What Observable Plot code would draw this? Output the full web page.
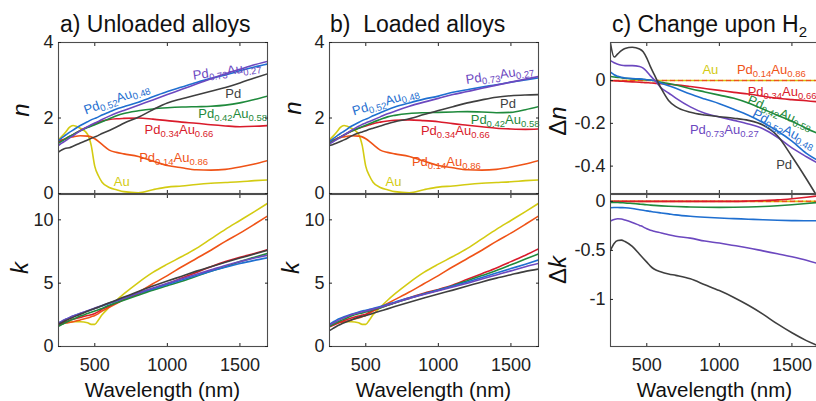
<!DOCTYPE html>
<html>
<head>
<meta charset="utf-8">
<script src="https://cdn.jsdelivr.net/npm/d3@7"></script>
<script src="https://cdn.jsdelivr.net/npm/@observablehq/plot@0.6"></script>
<style>
html, body { margin: 0; padding: 0; background: #fff; overflow: hidden; }
#chart { position: relative; width: 816px; height: 401px; overflow: hidden; background: #fff; }
#chart > svg { position: absolute; }
</style>
</head>
<body>
<div id="chart"></div>
<script>
// ---------- data ----------
const wavelength = [250, 275, 300, 325, 350, 400, 450, 475, 500, 525, 550, 600, 650, 700, 800, 900, 1000, 1100, 1200, 1300, 1400, 1500, 1600, 1690];
const alloys = ["Au", "Pd14", "Pd34", "Pd42", "Pd52", "Pd73", "Pd"];
const alloyNames = {
  Au: "Au", Pd14: "Pd_{0.14}Au_{0.86}", Pd34: "Pd_{0.34}Au_{0.66}", Pd42: "Pd_{0.42}Au_{0.58}",
  Pd52: "Pd_{0.52}Au_{0.48}", Pd73: "Pd_{0.73}Au_{0.27}", Pd: "Pd"
};

const n_Au   = [1.42,1.52,1.63,1.75,1.80,1.73,1.57,1.28,0.72,0.47,0.30,0.16,0.10,0.05,0.02,0.10,0.17,0.20,0.24,0.27,0.29,0.31,0.34,0.36];
const n_Pd14 = [1.40,1.42,1.45,1.48,1.50,1.53,1.52,1.50,1.45,1.38,1.30,1.15,1.09,1.05,0.98,0.86,0.74,0.68,0.63,0.62,0.64,0.70,0.78,0.87];
const k_Au   = [1.75,1.83,1.90,1.93,1.95,1.95,1.88,1.75,1.75,2.10,2.50,3.10,3.65,4.15,5.05,5.85,6.50,7.10,7.75,8.50,9.25,9.95,10.65,11.30];
const k_Pd14 = [1.70,1.78,1.85,1.90,1.95,2.10,2.25,2.35,2.45,2.60,2.80,3.10,3.40,3.70,4.30,4.95,5.60,6.30,6.95,7.60,8.30,8.95,9.65,10.30];
const zeros  = [0,0,0,0,0,0,0,0,0,0,0,0,0,0,0,0,0,0,0,0,0,0,0,0];

const nUnloaded = {
  Au: n_Au, Pd14: n_Pd14,
  Pd34: [1.36,1.41,1.46,1.51,1.56,1.67,1.76,1.80,1.85,1.89,1.92,1.96,1.98,1.99,2.00,1.97,1.93,1.89,1.86,1.82,1.79,1.77,1.78,1.80],
  Pd42: [1.33,1.39,1.45,1.51,1.56,1.66,1.75,1.78,1.82,1.86,1.90,1.98,2.06,2.12,2.19,2.24,2.27,2.29,2.30,2.31,2.34,2.40,2.49,2.58],
  Pd52: [1.40,1.48,1.55,1.62,1.68,1.80,1.90,1.95,1.99,2.03,2.08,2.16,2.24,2.30,2.42,2.56,2.70,2.82,2.94,3.05,3.14,3.25,3.35,3.43],
  Pd73: [1.27,1.34,1.40,1.47,1.53,1.66,1.77,1.82,1.87,1.91,1.96,2.05,2.13,2.20,2.34,2.48,2.62,2.76,2.90,3.04,3.17,3.29,3.41,3.50],
  Pd:   [1.10,1.16,1.20,1.21,1.25,1.34,1.42,1.46,1.50,1.54,1.59,1.67,1.76,1.86,2.02,2.22,2.40,2.51,2.61,2.71,2.81,2.93,3.06,3.17]
};
const nLoaded = {
  Au: n_Au, Pd14: n_Pd14,
  Pd34: [1.36,1.40,1.45,1.50,1.55,1.65,1.73,1.76,1.79,1.82,1.85,1.89,1.92,1.94,1.95,1.93,1.90,1.85,1.81,1.77,1.73,1.71,1.70,1.71],
  Pd42: [1.33,1.39,1.44,1.50,1.55,1.65,1.73,1.77,1.81,1.85,1.89,1.96,2.03,2.07,2.12,2.14,2.15,2.16,2.17,2.16,2.14,2.15,2.22,2.30],
  Pd52: [1.38,1.45,1.52,1.59,1.65,1.78,1.88,1.93,1.97,2.01,2.06,2.14,2.22,2.29,2.40,2.50,2.58,2.68,2.75,2.82,2.88,2.95,3.01,3.06],
  Pd73: [1.31,1.37,1.43,1.49,1.55,1.67,1.78,1.83,1.87,1.91,1.95,2.03,2.11,2.18,2.31,2.42,2.52,2.62,2.70,2.79,2.87,2.95,3.03,3.10],
  Pd:   [1.27,1.30,1.34,1.38,1.42,1.52,1.60,1.63,1.66,1.70,1.73,1.79,1.85,1.90,1.98,2.09,2.20,2.30,2.40,2.48,2.55,2.59,2.61,2.62]
};
const kUnloaded = {
  Au: k_Au, Pd14: k_Pd14,
  Pd34: [1.70,1.83,1.95,2.05,2.15,2.30,2.45,2.50,2.60,2.75,2.95,3.20,3.45,3.70,4.15,4.55,4.95,5.40,5.85,6.30,6.70,7.05,7.35,7.65],
  Pd42: [1.60,1.75,1.90,2.03,2.15,2.40,2.60,2.70,2.80,2.90,3.00,3.25,3.45,3.65,4.05,4.45,4.80,5.15,5.55,5.95,6.30,6.70,7.05,7.35],
  Pd52: [1.85,2.00,2.15,2.28,2.40,2.60,2.80,2.90,3.00,3.10,3.20,3.40,3.60,3.80,4.20,4.55,4.90,5.25,5.60,5.95,6.25,6.55,6.80,7.00],
  Pd73: [1.85,2.00,2.15,2.28,2.40,2.62,2.83,2.93,3.03,3.13,3.23,3.43,3.63,3.83,4.25,4.62,5.00,5.35,5.70,6.05,6.40,6.70,6.98,7.20],
  Pd:   [1.75,1.90,2.05,2.18,2.30,2.55,2.78,2.90,3.00,3.10,3.22,3.45,3.67,3.90,4.35,4.77,5.17,5.55,5.95,6.30,6.65,6.98,7.30,7.60]
};
const kLoaded = {
  Au: k_Au, Pd14: k_Pd14,
  Pd34: [1.55,1.68,1.80,1.93,2.05,2.25,2.40,2.48,2.55,2.70,2.85,3.05,3.25,3.45,3.85,4.20,4.50,4.85,5.30,5.75,6.20,6.70,7.20,7.70],
  Pd42: [1.60,1.75,1.90,2.03,2.15,2.40,2.58,2.65,2.72,2.80,2.90,3.05,3.25,3.43,3.80,4.15,4.45,4.80,5.20,5.60,6.00,6.45,6.90,7.30],
  Pd52: [1.75,1.93,2.10,2.23,2.35,2.55,2.72,2.80,2.86,2.93,3.00,3.15,3.33,3.50,3.85,4.15,4.45,4.77,5.10,5.45,5.80,6.15,6.50,6.83],
  Pd73: [1.70,1.85,2.00,2.14,2.27,2.50,2.67,2.74,2.80,2.87,2.95,3.10,3.28,3.45,3.80,4.10,4.40,4.70,5.00,5.33,5.65,5.97,6.30,6.56],
  Pd:   [1.25,1.43,1.60,1.74,1.87,2.10,2.30,2.38,2.45,2.53,2.62,2.80,2.97,3.15,3.50,3.83,4.15,4.45,4.77,5.10,5.40,5.67,5.93,6.12]
};
const deltaN = {
  Au: zeros, Pd14: zeros,
  Pd34: [0,-0.001,-0.002,-0.003,-0.004,-0.006,-0.008,-0.009,-0.010,-0.011,-0.012,-0.015,-0.017,-0.020,-0.028,-0.037,-0.046,-0.055,-0.063,-0.073,-0.083,-0.089,-0.094,-0.100],
  Pd42: [0.019,0.017,0.015,0.013,0.011,0.008,0.006,0.005,0.004,0.002,0.000,-0.008,-0.014,-0.021,-0.038,-0.053,-0.068,-0.083,-0.105,-0.133,-0.162,-0.190,-0.224,-0.250],
  Pd52: [0.039,0.027,0.020,0.015,0.012,0.009,0.008,0.006,0.004,0.002,0.000,-0.012,-0.024,-0.036,-0.063,-0.086,-0.108,-0.134,-0.162,-0.196,-0.236,-0.283,-0.340,-0.378],
  Pd73: [0.093,0.083,0.076,0.072,0.070,0.070,0.066,0.058,0.042,0.022,0.005,-0.035,-0.058,-0.082,-0.123,-0.153,-0.170,-0.186,-0.203,-0.225,-0.265,-0.315,-0.356,-0.390],
  Pd:   [0.174,0.110,0.125,0.140,0.150,0.156,0.148,0.135,0.105,0.065,0.030,-0.038,-0.093,-0.122,-0.148,-0.161,-0.169,-0.176,-0.186,-0.208,-0.258,-0.355,-0.460,-0.560]
};
const deltaK = {
  Au: zeros, Pd14: zeros,
  Pd34: [0,0,0,0,0,0,0,0,0,0,0,0,0,0,0,0,0,0,0.003,0.008,0.015,0.027,0.042,0.058],
  Pd42: [-0.010,-0.011,-0.012,-0.014,-0.016,-0.022,-0.028,-0.031,-0.035,-0.038,-0.041,-0.046,-0.050,-0.053,-0.057,-0.060,-0.061,-0.060,-0.057,-0.052,-0.044,-0.034,-0.022,-0.010],
  Pd52: [-0.065,-0.063,-0.063,-0.064,-0.065,-0.072,-0.085,-0.091,-0.097,-0.102,-0.108,-0.118,-0.128,-0.138,-0.152,-0.162,-0.170,-0.176,-0.182,-0.188,-0.193,-0.196,-0.198,-0.198],
  Pd73: [-0.200,-0.185,-0.178,-0.180,-0.190,-0.215,-0.245,-0.260,-0.280,-0.295,-0.305,-0.322,-0.340,-0.355,-0.375,-0.405,-0.425,-0.450,-0.475,-0.505,-0.535,-0.565,-0.600,-0.640],
  Pd:   [-0.500,-0.430,-0.400,-0.395,-0.410,-0.460,-0.540,-0.580,-0.620,-0.660,-0.690,-0.720,-0.740,-0.755,-0.790,-0.850,-0.910,-0.980,-1.060,-1.150,-1.250,-1.340,-1.420,-1.480]
};

// curve annotations: alloy, wavelength (nm), value, rotation (deg)
const labelsUnloaded = [
  {s: "Pd73", x: 1411, y: 3.25, r: -8},
  {s: "Pd52", x: 650, y: 2.51, r: -20},
  {s: "Pd",   x: 1454, y: 2.64, r: 0},
  {s: "Pd42", x: 1450, y: 2.11, r: 0},
  {s: "Pd34", x: 1080, y: 1.69, r: 0},
  {s: "Pd14", x: 1043, y: 0.94, r: 0},
  {s: "Au",   x: 686, y: 0.31, r: 0}
];
const labelsLoaded = [
  {s: "Pd73", x: 1423, y: 3.15, r: -9},
  {s: "Pd52", x: 636, y: 2.44, r: -17},
  {s: "Pd",   x: 1480, y: 2.37, r: 0},
  {s: "Pd42", x: 1460, y: 1.95, r: 0},
  {s: "Pd34", x: 1117, y: 1.67, r: 0},
  {s: "Pd14", x: 1055, y: 0.85, r: 0},
  {s: "Au",   x: 691, y: 0.31, r: 0}
];
const labelsDelta = [
  {s: "Au",   x: 938, y: 0.048, r: 0},
  {s: "Pd14", x: 1358, y: 0.048, r: 0},
  {s: "Pd34", x: 1432, y: -0.053, r: 0},
  {s: "Pd42", x: 1418, y: -0.150, r: 23},
  {s: "Pd52", x: 1445, y: -0.226, r: 28},
  {s: "Pd73", x: 1034, y: -0.232, r: 0},
  {s: "Pd",   x: 1446, y: -0.395, r: 0}
];

const xTicks = [500, 1000, 1500];
const nTicks = [0, 2, 4];
const kTicks = [0, 5, 10];
const dnTicks = [-0.4, -0.2, 0];
const dkTicks = [-1, -0.5, 0];
const titles = ["a) Unloaded alloys", "b)  Loaded alloys", "c) Change upon H"];
const xLabel = "Wavelength (nm)";

// ---------- styles ----------
const colors = {
  Au: "#d3cb12", Pd14: "#ef5317", Pd34: "#d91b2b", Pd42: "#1f8a3c",
  Pd52: "#1f6fd0", Pd73: "#6c48bf", Pd: "#3f3f3f"
};
const FONT = '"Liberation Sans", Arial, Helvetica, sans-serif';
const FRAME = "#4d4d4d";
const FW = 209;
const chart = document.getElementById("chart");
const NS = "http://www.w3.org/2000/svg";

function subscriptify(svg) {
  svg.querySelectorAll("text").forEach(t => {
    const s = t.textContent;
    if (!s.includes("_{")) return;
    t.textContent = "";
    const parts = s.split(/(_\{[^}]*\})/).filter(Boolean);
    let lowered = false;
    for (const p of parts) {
      const ts = document.createElementNS(NS, "tspan");
      if (p.startsWith("_{")) {
        ts.textContent = p.slice(2, -1);
        ts.setAttribute("font-size", "9.5");
        ts.setAttribute("dy", "3");
        lowered = true;
      } else {
        ts.textContent = p;
        if (lowered) { ts.setAttribute("dy", "-3"); lowered = false; }
      }
      t.appendChild(ts);
    }
  });
}

function panel({left, top, h, series, yDomain, yTicks, showX, labels, dashed}) {
  const ML = 60, MR = 14, MT = 10, MB = 40;
  const marks = [];
  for (const a of alloys) {
    const rows = wavelength.map((w, i) => ({w, v: series[a][i]}));
    const isDash = dashed && (a === "Au" || a === "Pd14");
    marks.push(Plot.line(rows, {
      x: "w", y: "v", stroke: colors[a], strokeWidth: 1.6, curve: "monotone-x", clip: true,
      strokeDasharray: isDash ? "4,4" : null,
      strokeDashoffset: isDash && a === "Pd14" ? 4 : 0
    }));
  }
  if (labels) {
    marks.push(Plot.text(labels, {
      x: "x", y: "y", text: d => alloyNames[d.s], rotate: "r",
      fill: d => colors[d.s], fontSize: 13, textAnchor: "middle", fontFamily: FONT
    }));
  }
  marks.push(
    Plot.frame({stroke: FRAME, strokeWidth: 1.1}),
    Plot.axisX({ticks: xTicks, anchor: "bottom", tickSize: -3, tickPadding: 15, label: null,
      tickFormat: showX ? d => String(d) : () => "", color: "#222"}),
    Plot.axisX({ticks: xTicks, anchor: "top", tickSize: -3, label: null, tickFormat: () => "", color: "#222"}),
    Plot.axisY({ticks: yTicks, anchor: "left", tickSize: -3, tickPadding: 8, label: null,
      tickFormat: d => String(d), color: "#222"}),
    Plot.axisY({ticks: yTicks, anchor: "right", tickSize: -3, label: null, tickFormat: () => "", color: "#222"})
  );
  const svg = Plot.plot({
    width: ML + FW + MR, height: MT + h + MB,
    marginLeft: ML, marginRight: MR, marginTop: MT, marginBottom: MB,
    x: {domain: [250, 1690]},
    y: {domain: yDomain},
    color: {type: "identity"},
    style: {background: "none", overflow: "visible", fontFamily: FONT, fontSize: "18px", color: "#222"},
    marks
  });
  subscriptify(svg);
  svg.style.left = (left - ML) + "px";
  svg.style.top = (top - MT) + "px";
  chart.appendChild(svg);
}

const colLeft = [58, 329, 610];
const topY = 42, topH = 151, botY = 194, botH = 152;

panel({left: colLeft[0], top: topY, h: topH, series: nUnloaded, yDomain: [0, 4], yTicks: nTicks, showX: false, labels: labelsUnloaded});
panel({left: colLeft[0], top: botY, h: botH, series: kUnloaded, yDomain: [0, 12], yTicks: kTicks, showX: true});
panel({left: colLeft[1], top: topY, h: topH, series: nLoaded, yDomain: [0, 4], yTicks: nTicks, showX: false, labels: labelsLoaded});
panel({left: colLeft[1], top: botY, h: botH, series: kLoaded, yDomain: [0, 12], yTicks: kTicks, showX: true});
panel({left: colLeft[2], top: topY, h: topH, series: deltaN, yDomain: [-0.528, 0.178], yTicks: dnTicks, showX: false, labels: labelsDelta, dashed: true});
panel({left: colLeft[2], top: botY, h: botH, series: deltaK, yDomain: [-1.48, 0.07], yTicks: dkTicks, showX: true, dashed: true});

// ---------- titles and axis labels ----------
const ov = document.createElementNS(NS, "svg");
ov.setAttribute("width", 816); ov.setAttribute("height", 401);
ov.style.left = "0px"; ov.style.top = "0px";
ov.setAttribute("font-family", FONT);
ov.setAttribute("fill", "#111");
let html = "";
html += `<text x="60" y="31.5" font-size="23">${titles[0]}</text>`;
html += `<text x="330" y="31.5" font-size="23" style="white-space:pre">${titles[1]}</text>`;
html += `<text x="612" y="31.5" font-size="23">${titles[2]}<tspan font-size="15" dy="5">2</tspan></text>`;
const yLab = [
  [20, 110, `<tspan font-style="italic">n</tspan>`],
  [19, 268, `<tspan font-style="italic">k</tspan>`],
  [292, 108, `<tspan font-style="italic">n</tspan>`],
  [290, 268, `<tspan font-style="italic">k</tspan>`],
  [557, 121, `Δ<tspan font-style="italic">n</tspan>`],
  [557, 270, `Δ<tspan font-style="italic">k</tspan>`]
];
for (const [x, y, t] of yLab) {
  html += `<text transform="translate(${x},${y}) rotate(-90)" text-anchor="middle" dominant-baseline="central" font-size="24">${t}</text>`;
}
for (const c of colLeft) {
  html += `<text x="${c + FW / 2}" y="396.5" text-anchor="middle" font-size="20.5">${xLabel}</text>`;
}
ov.innerHTML = html;
chart.appendChild(ov);
</script>
</body>
</html>
